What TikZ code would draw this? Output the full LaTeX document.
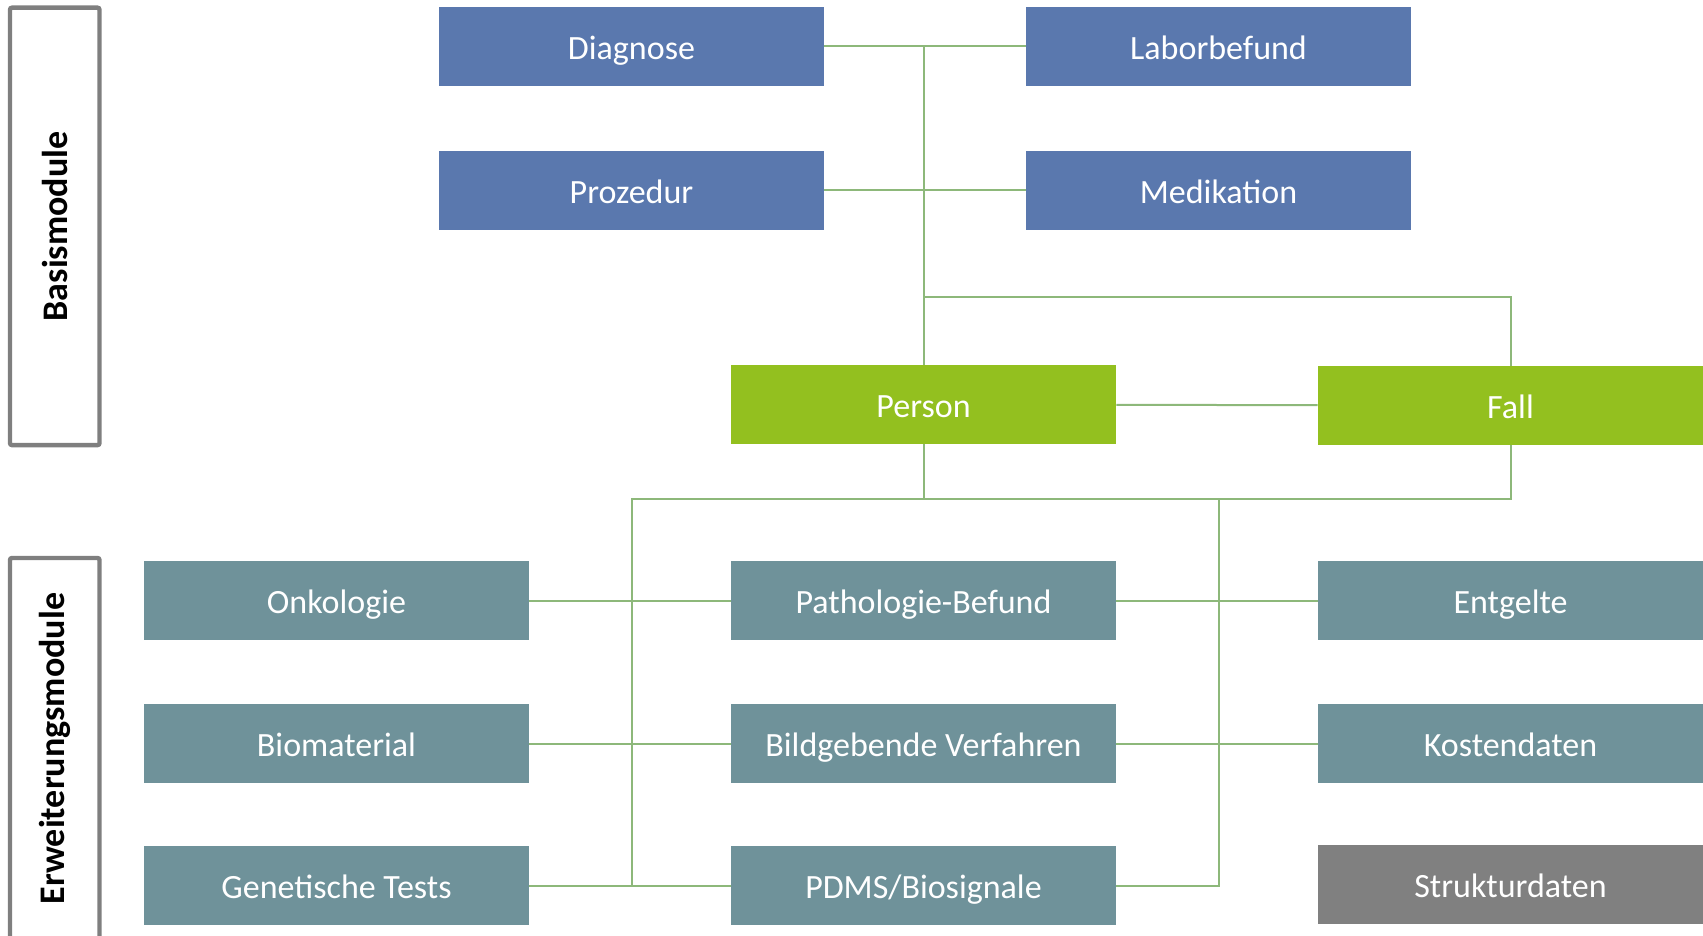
\documentclass[tikz,border=0pt]{standalone}
\usepackage{fontspec}
\setmainfont{Carlito}
\usetikzlibrary{positioning}

\definecolor{basisblue}{HTML}{5A78AE}
\definecolor{kerngreen}{HTML}{93C01F}
\definecolor{erwteal}{HTML}{6F929A}
\definecolor{strukgray}{HTML}{808080}
\definecolor{linkgreen}{HTML}{8DB87A}
\definecolor{framegray}{HTML}{7F7F7F}

\tikzset{
  modbox/.style={minimum width=192.5pt, minimum height=39.5pt, inner sep=0pt,
    text height=13pt, text depth=0.2pt,
    text=white, font=\fontsize{17}{20}\selectfont},
  basis/.style={modbox, fill=basisblue},
  kern/.style={modbox, fill=kerngreen},
  erw/.style={modbox, fill=erwteal},
  struk/.style={modbox, fill=strukgray},
  link/.style={draw=linkgreen, line width=1pt},
  frame/.style={draw=framegray, line width=2.2pt, rounded corners=1pt, rotate=90,
    minimum height=44.75pt, inner sep=0pt, font=\fontsize{18}{21}\selectfont\bfseries}
}

\begin{document}
\begin{tikzpicture}[x=0.5pt,y=-0.5pt]
\useasboundingbox (0,0) rectangle (1703,936);

% group frames
\node[frame, minimum width=218.7pt] (basisframe) at (54.75,226.4) {Basismodule};
\node[frame, minimum width=190.5pt] (erwframe) at (54.75,748.5) {Erweiterungsmodule};

% base modules
\node[basis] (diag) at (631.5,46.5) {Diagnose};
\node[basis] (labor) at (1218.5,46.5) {Laborbefund};
\node[basis] (proz) at (631.5,190.5) {Prozedur};
\node[basis] (medi) at (1218.5,190.5) {Medikation};

% core
\node[kern] (pers) at (923.5,404.5) {Person};
\node[kern] (fall) at (1510.5,405.5) {Fall};

% extension modules
\node[erw] (onko) at (336.5,600.5) {Onkologie};
\node[erw] (patho) at (923.5,600.5) {Pathologie-Befund};
\node[erw] (entg) at (1510.5,600.5) {Entgelte};
\node[erw] (bioma) at (336.5,743.5) {Biomaterial};
\node[erw] (bild) at (923.5,743.5) {Bildgebende Verfahren};
\node[erw] (kost) at (1510.5,743.5) {Kostendaten};
\node[erw] (gene) at (336.5,885.5) {Genetische Tests};
\node[erw] (pdms) at (923.5,885.5) {PDMS/Biosignale};
\node[struk] (struk) at (1510.5,884.5) {Strukturdaten};

% junctions
\coordinate (jbasis) at (923.5,297.5);
\coordinate (jerwl) at (631.5,499);
\coordinate (jerwm) at (923.5,499);
\coordinate (jerwr) at (1218.5,499);

% connectors, upper part
\draw[link] (diag) -- (labor);
\draw[link] (proz) -- (medi);
\draw[link] (pers.north) -- (pers.north |- diag.east);
\draw[link] (jbasis) -| (fall.north);
\draw[link] (pers) -- (fall);

% connectors, lower part
\draw[link] (pers.south) -- (jerwm);
\draw[link] (fall.south) |- (jerwl) -- (jerwl |- gene.east);
\draw[link] (jerwr) -- (jerwr |- pdms.east) -- (pdms.east);
\draw[link] (onko) -- (patho);
\draw[link] (bioma) -- (bild);
\draw[link] (gene) -- (pdms);
\draw[link] (patho) -- (entg);
\draw[link] (bild) -- (kost);
\end{tikzpicture}
\end{document}
